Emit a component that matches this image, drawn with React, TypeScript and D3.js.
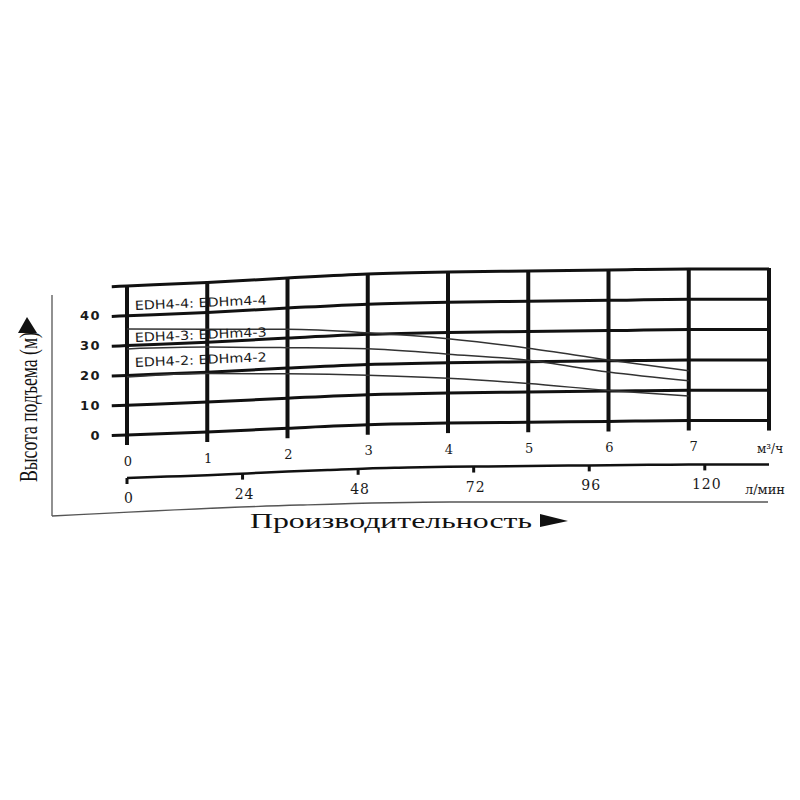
import React from "react";
import * as d3 from "d3";

// pump curves, head (m) at flow 0..7 m3/h
const flowM3 = [0, 1, 2, 3, 4, 5, 6, 7];
const headEDH44 = [35.6, 34.4, 32.9, 30.5, 27.9, 24.5, 20.3, 16.4];
const headEDH43 = [28.9, 28.4, 26.8, 25.2, 22.8, 20.5, 16.3, 13.1];
const headEDH42 = [19.5, 19.6, 18.1, 16.4, 14.8, 12.8, 10.2, 8.1];
const seriesLabels = ["EDH4-4: EDHm4-4", "EDH4-3: EDHm4-3", "EDH4-2: EDHm4-2"];

const headTicks = [0, 10, 20, 30, 40];
const gridHeads = [0, 10, 20, 30, 40, 50];
const gridFlows = [0, 1, 2, 3, 4, 5, 6, 7, 8];
const flowTicks = [0, 1, 2, 3, 4, 5, 6, 7];
const lminTicks = [0, 24, 48, 72, 96, 120];

// the scanned sheet is bent: lines rise toward the right
const warpCols = [0, 1, 2, 3, 4, 5, 6, 7, 8];
const warpOffsets = [0, -3.5, -8, -12, -14, -15, -16, -17, -17];

export default function App() {
  const x = d3.scaleLinear().domain([0, 8]).range([127, 769]);
  const y = d3.scaleLinear().domain([0, 50]).range([435, 286]);
  const warp = d3.scaleLinear().domain(warpCols).range(warpOffsets);
  const k = (v: number) => 0.85 + 0.003 * v;
  const py = (f: number, v: number) => y(v) + warp(f) * k(v);

  const line = d3
    .line<[number, number]>()
    .x((d) => d[0])
    .y((d) => d[1])
    .curve(d3.curveMonotoneX);

  const gridPath = (v: number) => {
    const xs = [-0.19, ...gridFlows];
    return line(xs.map((f) => [x(f), py(f, v)]));
  };

  const curvePath = (vals: number[]) =>
    line(flowM3.map((f, i) => [x(f), py(f, vals[i])]));

  // second axis, l/min
  const axis2Base = 478;
  const a2y = (f: number) => axis2Base + warp(f) * 0.8;
  const axis2 = line(
    d3.range(0, 8.01, 0.5).map((f) => [x(f), a2y(f)] as [number, number])
  );

  const frameBottom = d3
    .line<[number, number]>()
    .curve(d3.curveMonotoneX)([
    [52, 516],
    [300, 505],
    [450, 502],
    [768, 502],
  ]);

  const series = [headEDH44, headEDH43, headEDH42];
  const labelY = [310, 342, 367];

  return (
    <svg width={800} height={800} style={{ display: "block", margin: -8 }}>
      <rect width={800} height={800} fill="#fff" />

      {/* frame */}
      <line x1={52} y1={295} x2={52} y2={516} stroke="#555" strokeWidth={1.3} />
      <path d={frameBottom || ""} fill="none" stroke="#555" strokeWidth={1.3} />

      {/* horizontal grid */}
      {gridHeads.map((v) => (
        <path key={"h" + v} d={gridPath(v) || ""} fill="none" stroke="#111" strokeWidth={3} />
      ))}
      {/* vertical grid */}
      {gridFlows.map((f) => (
        <line
          key={"v" + f}
          x1={x(f)}
          x2={x(f)}
          y1={py(f, 50) - 1}
          y2={py(f, 0) + 10}
          stroke="#111"
          strokeWidth={4}
        />
      ))}

      {/* pump curves */}
      {series.map((s, i) => (
        <path key={"c" + i} d={curvePath(s) || ""} fill="none" stroke="#333" strokeWidth={1.5} />
      ))}

      {seriesLabels.map((t, i) => (
        <text
          key={t}
          x={135}
          y={labelY[i]}
          transform={`rotate(-2.5 135 ${labelY[i]})`}
          fontFamily="DejaVu Sans"
          fontSize={12.5}
          textLength={132}
          lengthAdjust="spacingAndGlyphs"
          fill="#1a1a1a"
        >
          {t}
        </text>
      ))}

      {/* head tick labels */}
      {headTicks.map((v) => (
        <text
          key={"yt" + v}
          x={101}
          y={y(v)}
          dy="0.36em"
          textAnchor="end"
          fontFamily="DejaVu Sans"
          fontWeight="bold"
          fontSize={13}
          letterSpacing={1.5}
          fill="#1a1a1a"
        >
          {v}
        </text>
      ))}

      {/* m3/h tick labels */}
      {flowTicks.map((f) => (
        <text
          key={"xt" + f}
          x={x(f) + (f === 7 ? 5 : 1)}
          y={py(f, 0) + 26}
          dy="0.36em"
          textAnchor="middle"
          fontFamily="DejaVu Serif"
          fontSize={13}
          fill="#1a1a1a"
        >
          {f}
        </text>
      ))}
      <text x={770} y={449} dy="0.36em" textAnchor="middle" fontFamily="DejaVu Serif" fontSize={12} fill="#1a1a1a">
        м³/ч
      </text>

      {/* l/min axis */}
      <path d={axis2 || ""} fill="none" stroke="#111" strokeWidth={2.5} />
      {lminTicks.map((q) => {
        const f = q * 0.06;
        return (
          <g key={"q" + q}>
            <line x1={x(f)} x2={x(f)} y1={a2y(f)} y2={a2y(f) + 6} stroke="#111" strokeWidth={3} />
            <text
              x={x(f) + 2}
              y={a2y(f) + 20}
              dy="0.36em"
              textAnchor="middle"
              fontFamily="DejaVu Serif"
              fontSize={14}
              letterSpacing={1}
              fill="#1a1a1a"
            >
              {q}
            </text>
          </g>
        );
      })}
      <text x={765} y={489} dy="0.36em" textAnchor="middle" fontFamily="DejaVu Serif" fontSize={13} fill="#1a1a1a">
        л/мин
      </text>

      {/* axis titles */}
      <text
        x={250}
        y={528}
        fontFamily="Liberation Serif"
        fontSize={21}
        textLength={282}
        lengthAdjust="spacingAndGlyphs"
        fill="#111"
      >
        Производительность
      </text>
      <path d="M540,514 L568,521 L540,527 Z" fill="#111" />

      <text
        transform="translate(37,482) rotate(-90)"
        fontFamily="Liberation Serif"
        fontSize={26}
        textLength={150}
        lengthAdjust="spacingAndGlyphs"
        fill="#111"
      >
        Высота подъема (м)
      </text>
      <path d="M18,333 L27,317 L37,333 Z" fill="#111" />
    </svg>
  );
}
